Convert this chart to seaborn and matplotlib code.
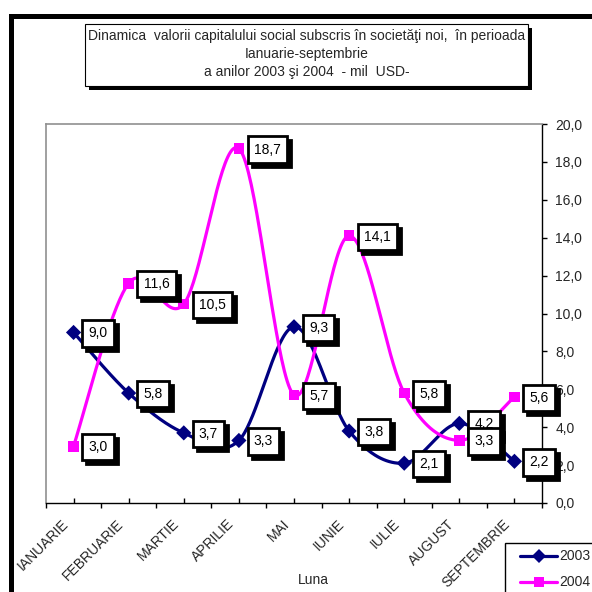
import numpy as np
import pandas as pd
import matplotlib
matplotlib.use("Agg")
import matplotlib.pyplot as plt
from matplotlib.patches import Rectangle
from matplotlib.lines import Line2D
from matplotlib.transforms import Affine2D
import seaborn as sns

months = ["IANUARIE", "FEBRUARIE", "MARTIE", "APRILIE", "MAI", "IUNIE",
          "IULIE", "AUGUST", "SEPTEMBRIE"]
v2003 = [9.0, 5.8, 3.7, 3.3, 9.3, 3.8, 2.1, 4.2, 2.2]
v2004 = [3.0, 11.6, 10.5, 18.7, 5.7, 14.1, 5.8, 3.3, 5.6]
years = ["2003", "2004"]
title_lines = ["Dinamica  valorii capitalului social subscris în societăţi noi,  în perioada",
               "Ianuarie-septembrie",
               "a anilor 2003 şi 2004  - mil  USD-"]
yticks = [0, 2, 4, 6, 8, 10, 12, 14, 16, 18, 20]

colors = {"2003": "#000080", "2004": "#FF00FF"}
mk = {"2003": "D", "2004": "s"}

sns.set_theme(style="white")
plt.rcParams['font.family'] = ['Liberation Sans', 'DejaVu Sans']
FS = 10

W = H = 592
fig = plt.figure(figsize=(5.92, 5.92), dpi=100)
fig.patch.set_facecolor("white")

def fx(px):
    return px / W

def fy(py):
    return 1 - py / H

L, R, T, B = 46, 542, 124, 503
ax = fig.add_axes([fx(L), fy(B), fx(R) - fx(L), fy(T) - fy(B)])


def smooth(xs, ys, n=40):
    # Bezier smoothing (Catmull-Rom style, like spreadsheet smoothed lines)
    P = np.column_stack([xs, ys]).astype(float)
    m = len(P)
    out = []
    for i in range(m - 1):
        p0 = P[i - 1] if i > 0 else P[i]
        p1 = P[i]
        p2 = P[i + 1]
        p3 = P[i + 2] if i + 2 < m else P[i + 1]
        c1 = p1 + (p2 - p0) / 6.0
        c2 = p2 - (p3 - p1) / 6.0
        t = np.linspace(0, 1, n, endpoint=(i == m - 2))[:, None]
        seg = ((1 - t) ** 3) * p1 + 3 * ((1 - t) ** 2) * t * c1 + 3 * (1 - t) * t ** 2 * c2 + t ** 3 * p2
        out.append(seg)
    return np.vstack(out)

xs = np.arange(len(months))
rows = []
pts = []
for yr, vals in zip(years, [v2003, v2004]):
    s = smooth(xs, vals)
    for k, (a, b) in enumerate(s):
        rows.append({"x": a, "y": b, "An": yr, "k": k})
    for i, v in enumerate(vals):
        pts.append({"x": i, "y": v, "An": yr})
sdf = pd.DataFrame(rows)
pdf = pd.DataFrame(pts)

sns.lineplot(data=sdf, x="x", y="y", hue="An", palette=colors, sort=False,
             estimator=None, units="An", lw=2.3, legend=False, ax=ax, zorder=3)
sns.scatterplot(data=pdf, x="x", y="y", hue="An", style="An", palette=colors,
                markers=mk, s=60, edgecolor=None, linewidth=0, legend=False,
                ax=ax, zorder=4)

ax.set_xlim(-0.5, len(months) - 0.5)
ax.set_ylim(0, 20)
ax.set_xlabel("")
ax.set_ylabel("")

# spines
for sp in ["left", "top"]:
    ax.spines[sp].set_color("#909090")
    ax.spines[sp].set_linewidth(1.2)
for sp in ["right", "bottom"]:
    ax.spines[sp].set_color("black")
    ax.spines[sp].set_linewidth(1.0)

ax.yaxis.tick_right()
ax.set_yticks(yticks)
ax.set_yticklabels([f"{v:.1f}".replace(".", ",") for v in yticks], fontsize=FS)
ax.tick_params(axis="y", direction="out", length=3.5, width=1, color="black", pad=6, right=True, left=False)

ax.set_xticks(xs)
ax.set_xticklabels(months, rotation=45, ha="right", rotation_mode="anchor", fontsize=FS)
ax.set_xticks(np.arange(-0.5, len(months), 1.0), minor=True)
ax.tick_params(axis="x", which="major", direction="in", length=3.5, width=1, color="black", pad=17, bottom=True)
ax.tick_params(axis="x", which="minor", direction="out", length=3.5, width=1, color="black", bottom=True)
shift = Affine2D().translate(-7, 5)
for lab in ax.get_xticklabels():
    lab.set_verticalalignment("center")
    lab.set_transform(lab.get_transform() + shift)

# data labels
def label(x, y, text):
    kw = dict(xy=(x, y), xycoords="data", textcoords="offset pixels",
              ha="left", va="center", fontsize=FS, annotation_clip=False)
    ax.annotate(text, xytext=(15 + 4, -1 - 4), color="black",
                bbox=dict(boxstyle="square,pad=0.45", fc="black", ec="black", lw=2),
                zorder=8, **kw)
    ax.annotate(text, xytext=(15, -1), color="black",
                bbox=dict(boxstyle="square,pad=0.45", fc="white", ec="black", lw=2),
                zorder=9, **kw)

for yr, vals in zip(years, [v2003, v2004]):
    for i, v in enumerate(vals):
        label(i, v, f"{v:.1f}".replace(".", ","))

# title box with shadow
tx0, tx1, ty0, ty1 = 85, 528, 24, 86
fig.add_artist(Rectangle((fx(tx0 + 4), fy(ty1 + 4)), fx(tx1) - fx(tx0), fy(ty0) - fy(ty1),
                         transform=fig.transFigure, fc="black", ec="black", lw=0, zorder=1))
fig.add_artist(Rectangle((fx(tx0), fy(ty1)), fx(tx1) - fx(tx0), fy(ty0) - fy(ty1),
                         transform=fig.transFigure, fc="white", ec="black", lw=0.8, zorder=2))
for j, line in enumerate(title_lines):
    fig.text(fx(306.5), fy(36 + 18 * j), line, ha="center", va="center", fontsize=FS, zorder=3)

# x axis title
fig.text(fx(313), fy(580), "Luna", ha="center", va="center", fontsize=FS)

# outer chart border (partly outside the image)
fig.add_artist(Rectangle((fx(11), fy(700)), fx(800), fy(16) - fy(700),
                         transform=fig.transFigure, fill=False, ec="black", lw=3.6, zorder=10))

# legend (drawn as a boxed key at the lower right, partly outside the image)
fig.add_artist(Rectangle((fx(505), fy(640)), fx(200), fy(543) - fy(640),
                         transform=fig.transFigure, fc="white", ec="black", lw=1.0, zorder=11))
for j, yr in enumerate(years):
    yy = fy(556 + 26 * j)
    fig.add_artist(Line2D([fx(520), fx(557)], [yy, yy], transform=fig.transFigure,
                          color=colors[yr], lw=2.3, zorder=12))
    fig.add_artist(Line2D([fx(538.5)], [yy], transform=fig.transFigure, color=colors[yr],
                          marker=mk[yr], markersize=7.5, markeredgewidth=0, lw=0, zorder=13))
    fig.text(fx(559), yy, yr, ha="left", va="center", fontsize=FS, zorder=14)

fig.savefig("out.png", dpi=100, facecolor="white")
